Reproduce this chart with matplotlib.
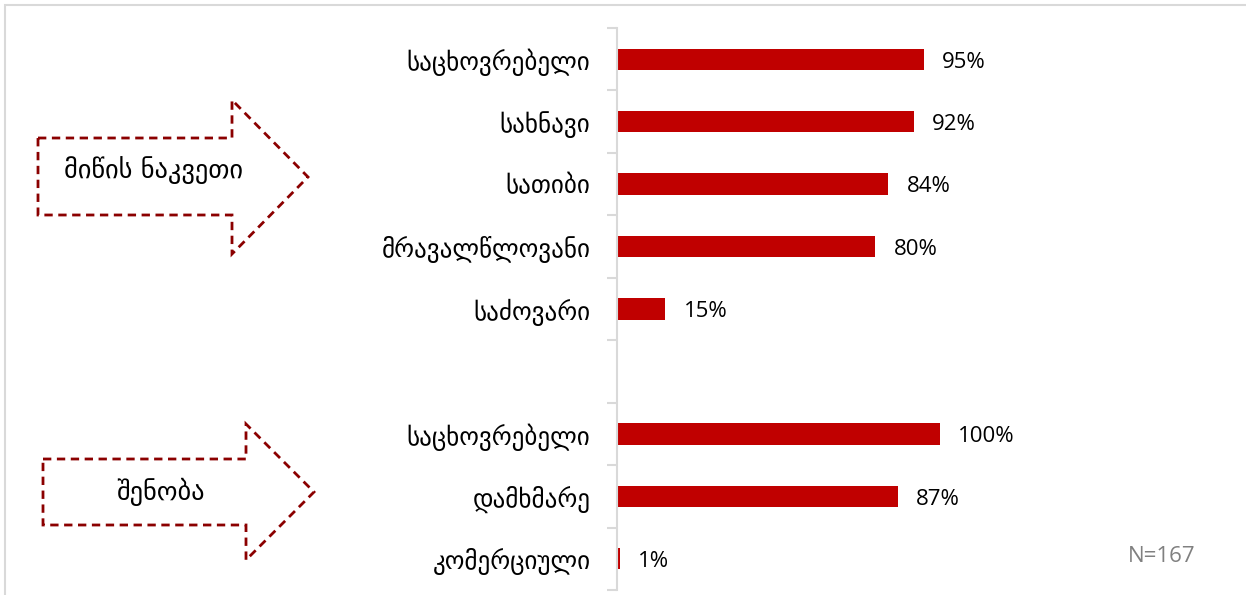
import numpy as np
import matplotlib
matplotlib.use("Agg")
import matplotlib.pyplot as plt
from matplotlib.patches import Polygon, Rectangle

# Category labels top to bottom; empty string leaves a gap between groups
categories = ["საცხოვრებელი", "სახნავი", "სათიბი", "მრავალწლოვანი", "საძოვარი",
              "", "საცხოვრებელი", "დამხმარე", "კომერციული"]
values = [95, 92, 84, 80, 15, None, 100, 87, 1]
group_labels = ["მიწის ნაკვეთი", "შენობა"]
note = "N=167"

BAR_RED = "#C00000"
ARROW_RED = "#8B0000"
GRID_GREY = "#D9D9D9"

W, H = 1246, 595
fig = plt.figure(figsize=(W / 100, H / 100), dpi=100)


def px(x, y):
    return (x / W, 1 - y / H)


# axes placed in pixel terms: value axis at x=617, 100% reaches x=940
ax_left, ax_right = 617, 1240
ax_top, ax_bottom = 28, 590
ax = fig.add_axes([ax_left / W, 1 - ax_bottom / H,
                   (ax_right - ax_left) / W, (ax_bottom - ax_top) / H])
xmax = 100 * (ax_right - ax_left) / (940 - ax_left)
ax.set_xlim(0, xmax)
ax.set_ylim(len(categories) - 0.5, -0.5)

pos = np.arange(len(categories))
for y, v in zip(pos, values):
    if v is None:
        continue
    ax.barh(y, v, height=0.34, color=BAR_RED)
    ax.annotate(f"{v}%", (v, y), xytext=(13, -2), textcoords="offset points",
                va="center", ha="left", fontsize=16, family="Open Sans",
                color="#000000")

ax.set_yticks(pos)
ax.set_yticklabels(categories, fontsize=18, family="DejaVu Sans")
ax.tick_params(axis="y", which="major", length=0, pad=19)
ax.set_yticks(np.arange(-0.5, len(categories)), minor=True)
ax.tick_params(axis="y", which="minor", length=7, width=1.5, color=GRID_GREY)
ax.set_xticks([])
for s in ["top", "right", "bottom"]:
    ax.spines[s].set_visible(False)
ax.spines["left"].set_color(GRID_GREY)
ax.spines["left"].set_linewidth(1.5)

fig.text(*px(1196, 557), note, fontsize=16, family="Open Sans",
         color="#808080", ha="right", va="center")


def block_arrow(x0, x1, y0, y1, head_top, head_bot, tip_x):
    ymid = (head_top + head_bot) / 2
    pts = [(x0, y0), (x1, y0), (x1, head_top), (tip_x, ymid),
           (x1, head_bot), (x1, y1), (x0, y1)]
    return Polygon([px(*p) for p in pts], closed=True, transform=fig.transFigure,
                   fill=False, edgecolor=ARROW_RED, linewidth=2,
                   linestyle=(0, (3, 2)))


fig.patches.append(block_arrow(38, 232, 138, 215, 100, 254, 308))
fig.patches.append(block_arrow(43, 246, 459, 525, 424, 560, 314))
fig.text(*px(154, 170), group_labels[0], fontsize=19, ha="center", va="center")
fig.text(*px(160, 492), group_labels[1], fontsize=19, ha="center", va="center")

# light outer frame
fig.patches.append(Rectangle(px(5, 600), (W + 10) / W, (600 - 5) / H,
                             transform=fig.transFigure, fill=False,
                             edgecolor=GRID_GREY, linewidth=1.5))

fig.savefig("out.png", dpi=100)
